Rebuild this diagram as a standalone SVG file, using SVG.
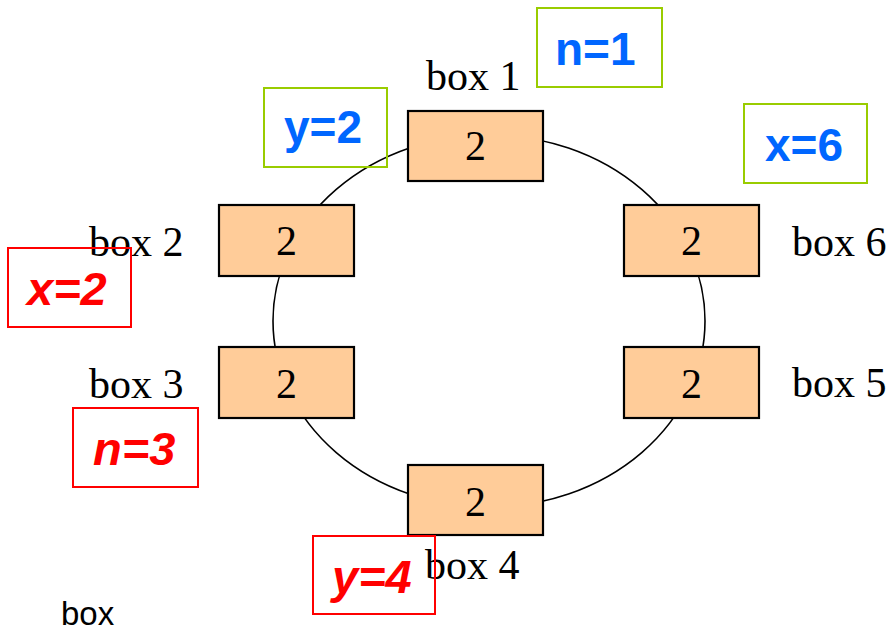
<svg xmlns="http://www.w3.org/2000/svg" width="890" height="632" viewBox="0 0 890 632">
<style>
.box rect{fill:#ffcc99;stroke:#000;stroke-width:2.2}
.val{font-family:"Liberation Serif","Times New Roman",serif;font-size:42px;fill:#000;text-anchor:middle}
.lbl{font-family:"Liberation Serif","Times New Roman",serif;font-size:42px;fill:#000}
.note-g rect{fill:none;stroke:#99cc00;stroke-width:2}
.note-r rect{fill:none;stroke:#ff0000;stroke-width:2}
.tg{font-family:"Liberation Sans",Arial,sans-serif;font-weight:bold;font-size:46px;fill:#0066ff}
.tr{font-family:"Liberation Sans",Arial,sans-serif;font-weight:bold;font-style:italic;font-size:47px;fill:#ff0000}
.plain{font-family:"Liberation Sans",Arial,sans-serif;font-size:33px;fill:#000}
</style>
<rect width="890" height="632" fill="#fff"/>
<g id="connectors">
<ellipse cx="489" cy="321" rx="216" ry="186" fill="none" stroke="#000" stroke-width="1.6"/>
</g>
<g id="box1" class="box"><rect x="408" y="111" width="135" height="70"/><text class="val" x="475.5" y="160">2</text><text class="lbl" x="426" y="90">box 1</text></g>
<g id="box2" class="box"><rect x="219" y="205" width="135" height="71"/><text class="val" x="286.5" y="255">2</text><text class="lbl" x="89" y="256">box 2</text></g>
<g id="box3" class="box"><rect x="219" y="347" width="135" height="71"/><text class="val" x="286.5" y="398">2</text><text class="lbl" x="89" y="398">box 3</text></g>
<g id="box4" class="box"><rect x="408" y="465" width="135" height="70"/><text class="val" x="475.5" y="516">2</text><text class="lbl" x="425" y="579">box 4</text></g>
<g id="box5" class="box"><rect x="624" y="347" width="135" height="71"/><text class="val" x="691.5" y="398">2</text><text class="lbl" x="792" y="397">box 5</text></g>
<g id="box6" class="box"><rect x="624" y="205" width="135" height="71"/><text class="val" x="691.5" y="255">2</text><text class="lbl" x="792" y="256">box 6</text></g>
<g id="note-n1" class="note-g"><rect x="537" y="8" width="125" height="79"/><text class="tg" x="555" y="65">n=1</text></g>
<g id="note-y2" class="note-g"><rect x="264" y="88" width="123" height="79"/><text class="tg" x="284" y="143">y=2</text></g>
<g id="note-x6" class="note-g"><rect x="744" y="104" width="123" height="79"/><text class="tg" x="765" y="161">x=6</text></g>
<g id="note-x2" class="note-r"><rect x="8" y="248" width="123" height="79"/><text class="tr" x="27" y="305">x=2</text></g>
<g id="note-n3" class="note-r"><rect x="73" y="408" width="125" height="79"/><text class="tr" x="93" y="465">n=3</text></g>
<g id="note-y4" class="note-r"><rect x="313" y="536" width="122" height="78"/><text class="tr" x="332" y="593">y=4</text></g>
<text class="plain" x="61" y="625">box</text>
</svg>
